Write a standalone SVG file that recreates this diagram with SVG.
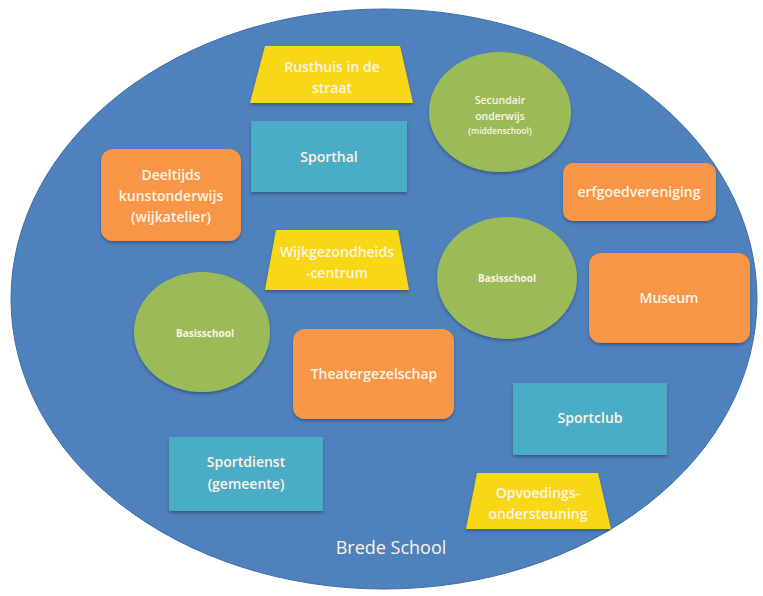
<svg xmlns="http://www.w3.org/2000/svg" width="763" height="596" viewBox="0 0 763 596">
<defs>
<filter id="sh" x="-20%" y="-20%" width="140%" height="150%">
<feDropShadow dx="0" dy="2" stdDeviation="1.5" flood-color="#000" flood-opacity="0.3"/>
</filter>
</defs>
<style>
.bg{fill:#4F81BD;stroke:#3E6EA6;stroke-width:1}
.y{fill:#F8D716;filter:url(#sh)}
.g{fill:#9BBB59;filter:url(#sh)}
.b{fill:#4BACC6;filter:url(#sh)}
.o{fill:#F79646;filter:url(#sh)}
text{font-family:"Open Sans","Liberation Sans",sans-serif;fill:#FDF3E6;text-anchor:middle;font-weight:600}
.t{font-size:14px}
.s{font-size:10px;font-weight:bold}
</style>
<rect width="763" height="596" fill="#fff"/>
<g id="brede-school">
<ellipse class="bg" cx="384" cy="299" rx="373" ry="290"/>
<text x="391" y="554" style="font-size:18px;font-weight:normal">Brede School</text>
</g>
<g id="connectors"/>
<g id="rusthuis">
<polygon class="y" points="265,46 400,46 413,103 250,103"/>
<text class="t" x="332" y="72">Rusthuis in de</text>
<text class="t" x="332" y="93">straat</text>
</g>
<g id="secundair">
<ellipse class="g" cx="500" cy="112" rx="71" ry="60"/>
<text x="500" y="104" style="font-size:10.5px">Secundair</text>
<text x="500" y="120" style="font-size:10.5px">onderwijs</text>
<text x="500" y="134" style="font-size:8.5px">(middenschool)</text>
</g>
<g id="sporthal">
<rect class="b" x="251" y="121" width="156" height="71"/>
<text class="t" x="329" y="162">Sporthal</text>
</g>
<g id="deeltijds">
<rect class="o" x="101" y="149" width="140" height="92" rx="12"/>
<text class="t" x="171" y="180">Deeltijds</text>
<text class="t" x="171" y="201">kunstonderwijs</text>
<text class="t" x="171" y="222">(wijkatelier)</text>
</g>
<g id="erfgoed">
<rect class="o" x="563" y="163" width="153" height="58" rx="10"/>
<text class="t" x="639" y="197">erfgoedvereniging</text>
</g>
<g id="wijkgezondheid">
<polygon class="y" points="276,230 398,230 409,290 265,290"/>
<text class="t" x="337" y="257">Wijkgezondheids</text>
<text class="t" x="337" y="278">-centrum</text>
</g>
<g id="basisschool-rechts">
<ellipse class="g" cx="507" cy="278" rx="70" ry="61"/>
<text class="s" x="507" y="282">Basisschool</text>
</g>
<g id="museum">
<rect class="o" x="589" y="253" width="161" height="90" rx="12"/>
<text class="t" x="669" y="303">Museum</text>
</g>
<g id="basisschool-links">
<ellipse class="g" cx="202" cy="332" rx="68" ry="60"/>
<text class="s" x="205" y="337">Basisschool</text>
</g>
<g id="theater">
<rect class="o" x="293" y="329" width="161" height="90" rx="12"/>
<text class="t" x="374" y="379">Theatergezelschap</text>
</g>
<g id="sportclub">
<rect class="b" x="513" y="383" width="154" height="72"/>
<text class="t" x="590" y="423">Sportclub</text>
</g>
<g id="sportdienst">
<rect class="b" x="169" y="437" width="154" height="74"/>
<text class="t" x="246" y="467">Sportdienst</text>
<text class="t" x="246" y="489">(gemeente)</text>
</g>
<g id="opvoeding">
<polygon class="y" points="477,473 598,473 611,529 466,529"/>
<text class="t" x="538" y="498">Opvoedings-</text>
<text class="t" x="538" y="519">ondersteuning</text>
</g>
</svg>
